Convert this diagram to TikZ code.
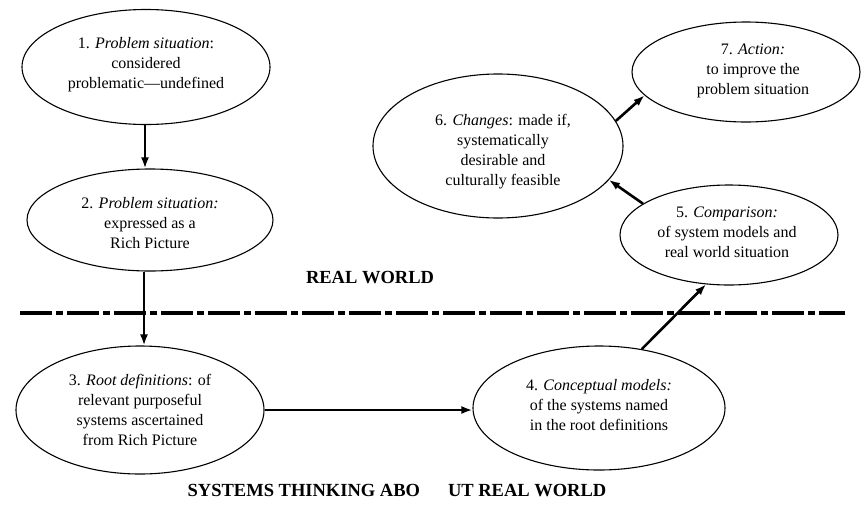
\documentclass[tikz,border=0pt]{standalone}
\usepackage{fontspec}
\setmainfont{Liberation Serif}
\usetikzlibrary{shapes.geometric,arrows.meta}
\begin{document}
\begin{tikzpicture}[x=1pt,y=-1pt,
  ell/.style={draw, ellipse, line width=1.1pt, inner sep=0pt},
  txt/.style={align=center, font=\fontsize{16}{20}\selectfont, inner sep=0pt},
  hdr/.style={font=\fontsize{18.5}{20}\selectfont\bfseries, inner sep=0pt},
  arr/.style={line width=2.6pt, -{Latex[length=11pt,width=8pt]}},
  sepline/.style={line width=4.5pt, dash pattern=on 32pt off 4pt on 7pt off 4pt}]
\useasboundingbox (0,0) rectangle (867,509);
% ellipses
\node[ell, minimum width=248pt, minimum height=115pt] (e1) at (146,67) {};
\node[ell, minimum width=246pt, minimum height=102pt] (e2) at (150,220) {};
\node[ell, minimum width=248pt, minimum height=128pt] (e3) at (140,410) {};
\node[ell, minimum width=252pt, minimum height=124pt] (e4) at (599,408) {};
\node[ell, minimum width=218pt, minimum height=100pt] (e5) at (729,235) {};
\node[ell, minimum width=250pt, minimum height=144pt] (e6) at (498,146) {};
\node[ell, minimum width=228pt, minimum height=100pt] (e7) at (746,72) {};
% texts
\node[txt] (t1) at (146,65) {1. \textit{Problem situation}:\\considered\\problematic—undefined};
\node[txt] (t2) at (150,223) {2. \textit{Problem situation:}\\expressed as a\\Rich Picture};
\node[txt] (t3) at (140,410) {3. \textit{Root definitions}: of\\relevant purposeful\\systems ascertained\\from Rich Picture};
\node[txt] (t4) at (599,405) {4. \textit{Conceptual models:}\\of the systems named\\in the root definitions};
\node[txt] (t5) at (727,232) {5. \textit{Comparison:}\\of system models and\\real world situation};
\node[txt] (t6) at (503,152) {6. \textit{Changes}: made if,\\systematically\\desirable and\\culturally feasible};
\node[txt] (t7) at (753,71) {7. \textit{Action:}\\to improve the\\problem situation};
% headings
\node[hdr] (rw) at (370,278) {REAL WORLD};
\node[hdr] (st) at (397,491) {SYSTEMS THINKING ABO\hspace{28pt}UT REAL WORLD};
% separator
\coordinate (dl) at (20,313);
\coordinate (dr) at (845,313);
\draw[sepline] (dl) -- (dr);
% arrows
\draw[arr] (e1.south -| 145,0) -- (145,0 |- e2.north);
\draw[arr] (e2.south -| 144,0) -- (144,0 |- e3.north);
\draw[arr] (e3.east) -- (e3.east -| e4.west);
\draw[arr] (e4.54) -- (e5.245);
\draw[arr] (e5.160) -- (e6.343);
\draw[arr] (e6.12) -- (e7.193);
\end{tikzpicture}
\end{document}
